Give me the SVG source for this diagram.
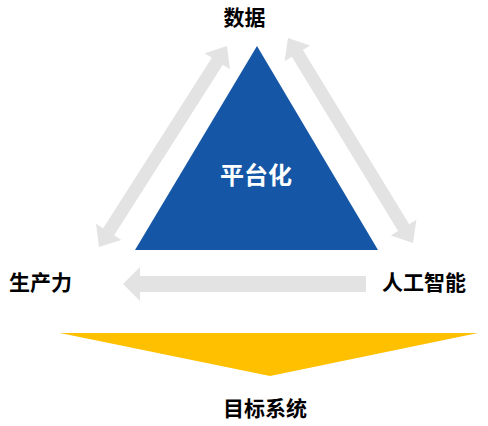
<svg xmlns="http://www.w3.org/2000/svg" width="488" height="426" viewBox="0 0 488 426">
<style>
.lbl{font-family:"Noto Sans CJK SC","Noto Sans",sans-serif;font-weight:bold;font-size:21px;fill:#000;}
.arr{fill:#e3e3e3;}
</style>
<rect width="488" height="426" fill="#fff"/>
<g id="connectors">
<polygon class="arr" transform="translate(227,46) rotate(122.49)" points="0,0 18,-15 18,-6.5 220.3,-6.5 220.3,-15 238.3,0 220.3,15 220.3,6.5 18,6.5 18,15"/>
<polygon class="arr" transform="translate(288,38) rotate(58.63)" points="0,0 18,-15 18,-6.5 222.1,-6.5 222.1,-15 240.1,0 222.1,15 222.1,6.5 18,6.5 18,15"/>
<polygon class="arr" points="123,284 140,267 140,276 366,276 366,292 140,292 140,301"/>
</g>
<g id="platform">
<polygon points="257,46 135,250 378,250" fill="#1557a6"/>
<text x="256" y="184" text-anchor="middle" font-family="Noto Sans CJK SC,Noto Sans,sans-serif" font-weight="bold" font-size="24" fill="#fff">平台化</text>
</g>
<g id="data"><text class="lbl" x="244.5" y="25" text-anchor="middle">数据</text></g>
<g id="productivity"><text class="lbl" x="9" y="290">生产力</text></g>
<g id="ai"><text class="lbl" x="382" y="290">人工智能</text></g>
<g id="target">
<polygon points="60,333 478,333 270,376" fill="#ffc000"/>
<text class="lbl" x="265" y="416" text-anchor="middle">目标系统</text>
</g>
</svg>
